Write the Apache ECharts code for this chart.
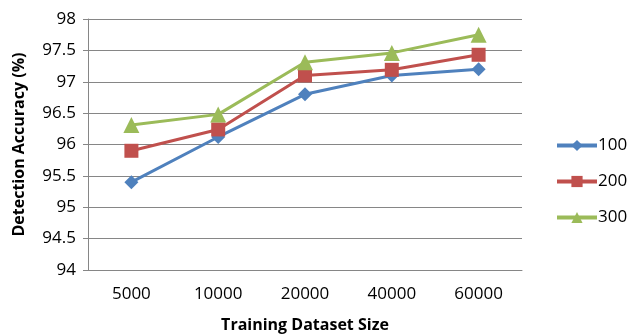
<!DOCTYPE html>
<html>
<head>
<meta charset="utf-8">
<script src="https://cdn.jsdelivr.net/npm/echarts@6/dist/echarts.min.js"></script>
<style>
  html, body { margin: 0; padding: 0; background: #fff; }
  #chart { width: 627px; height: 335px; }
</style>
</head>
<body>
<div id="chart"></div>
<script>
// Training set sizes on the x axis
const categories = ['5000', '10000', '20000', '40000', '60000'];
// Detection accuracy (%) for each setting
const series100 = [95.4, 96.12, 96.8, 97.1, 97.2];
const series200 = [95.9, 96.24, 97.1, 97.19, 97.43];
const series300 = [96.31, 96.48, 97.31, 97.46, 97.75];
const seriesNames = ['100', '200', '300'];

const font = '"Open Sans", "Liberation Sans", sans-serif';
const colors = ['#4F81BD', '#C0504D', '#9BBB59'];
const symbols = ['diamond', 'rect', 'triangle'];
const symbolSizes = [14, 14, 16];

const chart = echarts.init(document.getElementById('chart'));
chart.setOption({
  animation: false,
  backgroundColor: '#fff',
  grid: { left: 88, right: 105, top: 19, bottom: 65, containLabel: false, outerBoundsMode: 'none' },
  legend: {
    orient: 'vertical',
    left: 550,
    top: 132,
    itemGap: 19,
    itemWidth: 40,
    itemHeight: 14,
    lineStyle: { width: 4 },
    textStyle: { fontFamily: font, fontSize: 17, color: '#000', padding: [0, 0, 0, -4] },
    data: seriesNames
  },
  xAxis: {
    type: 'category',
    data: categories,
    name: 'Training Dataset Size',
    nameLocation: 'middle',
    nameGap: 47,
    nameTextStyle: { fontFamily: font, fontSize: 16, fontWeight: 'bold', color: '#000' },
    axisLine: { lineStyle: { color: '#868686', width: 1 } },
    axisTick: { show: false },
    axisLabel: { fontFamily: font, fontSize: 17, color: '#000', margin: 16 }
  },
  yAxis: {
    type: 'value',
    min: 94,
    max: 98,
    interval: 0.5,
    name: 'Detection Accuracy (%)',
    nameLocation: 'middle',
    nameGap: 61,
    nameTextStyle: { fontFamily: font, fontSize: 16, fontWeight: 'bold', color: '#000' },
    axisLine: { show: true, lineStyle: { color: '#868686', width: 1 } },
    axisTick: { show: true, length: 5, lineStyle: { color: '#868686' } },
    axisLabel: { fontFamily: font, fontSize: 17, color: '#000', margin: 12 },
    splitLine: { lineStyle: { color: '#868686', width: 1 } }
  },
  series: [series100, series200, series300].map((d, i) => ({
    name: seriesNames[i],
    type: 'line',
    data: d,
    symbol: symbols[i],
    symbolSize: symbolSizes[i],
    showAllSymbol: true,
    itemStyle: { color: colors[i] },
    lineStyle: { color: colors[i], width: 3 },
    z: 2 + i
  }))
});
</script>
</body>
</html>
